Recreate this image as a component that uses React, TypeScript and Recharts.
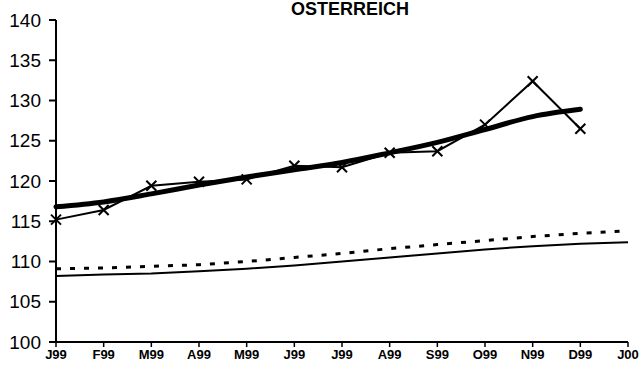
import { LineChart, Line, XAxis, YAxis } from 'recharts';

const MONTHS = ['J99', 'F99', 'M99', 'A99', 'M99', 'J99', 'J99', 'A99', 'S99', 'O99', 'N99', 'D99', 'J00'];
const ACTUAL = [115.2, 116.4, 119.4, 119.9, 120.2, 121.9, 121.7, 123.5, 123.7, 127.0, 132.4, 126.5, null];
const TREND = [116.8, 117.4, 118.4, 119.5, 120.5, 121.4, 122.3, 123.5, 124.8, 126.4, 128.0, 128.9, null];
const UPPER = [109.1, 109.2, 109.4, 109.6, 110.0, 110.5, 111.0, 111.6, 112.1, 112.6, 113.1, 113.5, 113.8];
const LOWER = [108.2, 108.4, 108.5, 108.8, 109.1, 109.5, 110.0, 110.5, 111.0, 111.5, 111.9, 112.2, 112.4];
const Y_TICKS = [100, 105, 110, 115, 120, 125, 130, 135, 140];

const data = MONTHS.map((m, i) => ({
  idx: i,
  actual: ACTUAL[i],
  trend: TREND[i],
  upper: UPPER[i],
  lower: LOWER[i],
}));

const FONT = '"Liberation Sans", Arial, Helvetica, sans-serif';

function Cross(props: any) {
  const { cx, cy, value } = props;
  if (value == null || cx == null || cy == null) return null;
  const r = 5;
  return (
    <g stroke="#000" strokeWidth={2}>
      <line x1={cx - r} y1={cy - r} x2={cx + r} y2={cy + r} />
      <line x1={cx - r} y1={cy + r} x2={cx + r} y2={cy - r} />
    </g>
  );
}

export default function App() {
  return (
    <div style={{ position: 'absolute', left: 0, top: 0, background: '#fff' }}>
      <LineChart
        width={644}
        height={374}
        data={data}
        margin={{ top: 20, right: 16, bottom: 2, left: 0 }}
      >
        <text x={350} y={15} textAnchor="middle" fontFamily={FONT} fontWeight="bold" fontSize={18} fill="#000">
          OSTERREICH
        </text>
        <XAxis
          dataKey="idx"
          type="category"
          interval={0}
          height={30}
          tickFormatter={(v: number) => MONTHS[v]}
          tick={{ fontSize: 13, fontWeight: 'bold', fill: '#000', fontFamily: FONT }}
          tickLine={{ stroke: '#000', strokeWidth: 1.5 }}
          tickSize={5}
          tickMargin={3}
          axisLine={{ stroke: '#000', strokeWidth: 2 }}
          padding={{ left: 0, right: 0 }}
        />
        <YAxis
          domain={[100, 140]}
          ticks={Y_TICKS}
          interval={0}
          width={56}
          tick={{ fontSize: 19, fill: '#000', fontFamily: FONT }}
          tickLine={{ stroke: '#000', strokeWidth: 2 }}
          tickSize={7}
          tickMargin={8}
          axisLine={{ stroke: '#000', strokeWidth: 2 }}
        />
        <Line dataKey="upper" stroke="#000" strokeWidth={3} strokeDasharray="5 9" dot={false} isAnimationActive={false} />
        <Line dataKey="lower" stroke="#000" strokeWidth={2} dot={false} isAnimationActive={false} />
        <Line dataKey="trend" stroke="#000" strokeWidth={5} strokeLinecap="round" dot={false} type="monotone" isAnimationActive={false} />
        <Line dataKey="actual" stroke="#000" strokeWidth={2} dot={<Cross />} isAnimationActive={false} />
      </LineChart>
    </div>
  );
}
